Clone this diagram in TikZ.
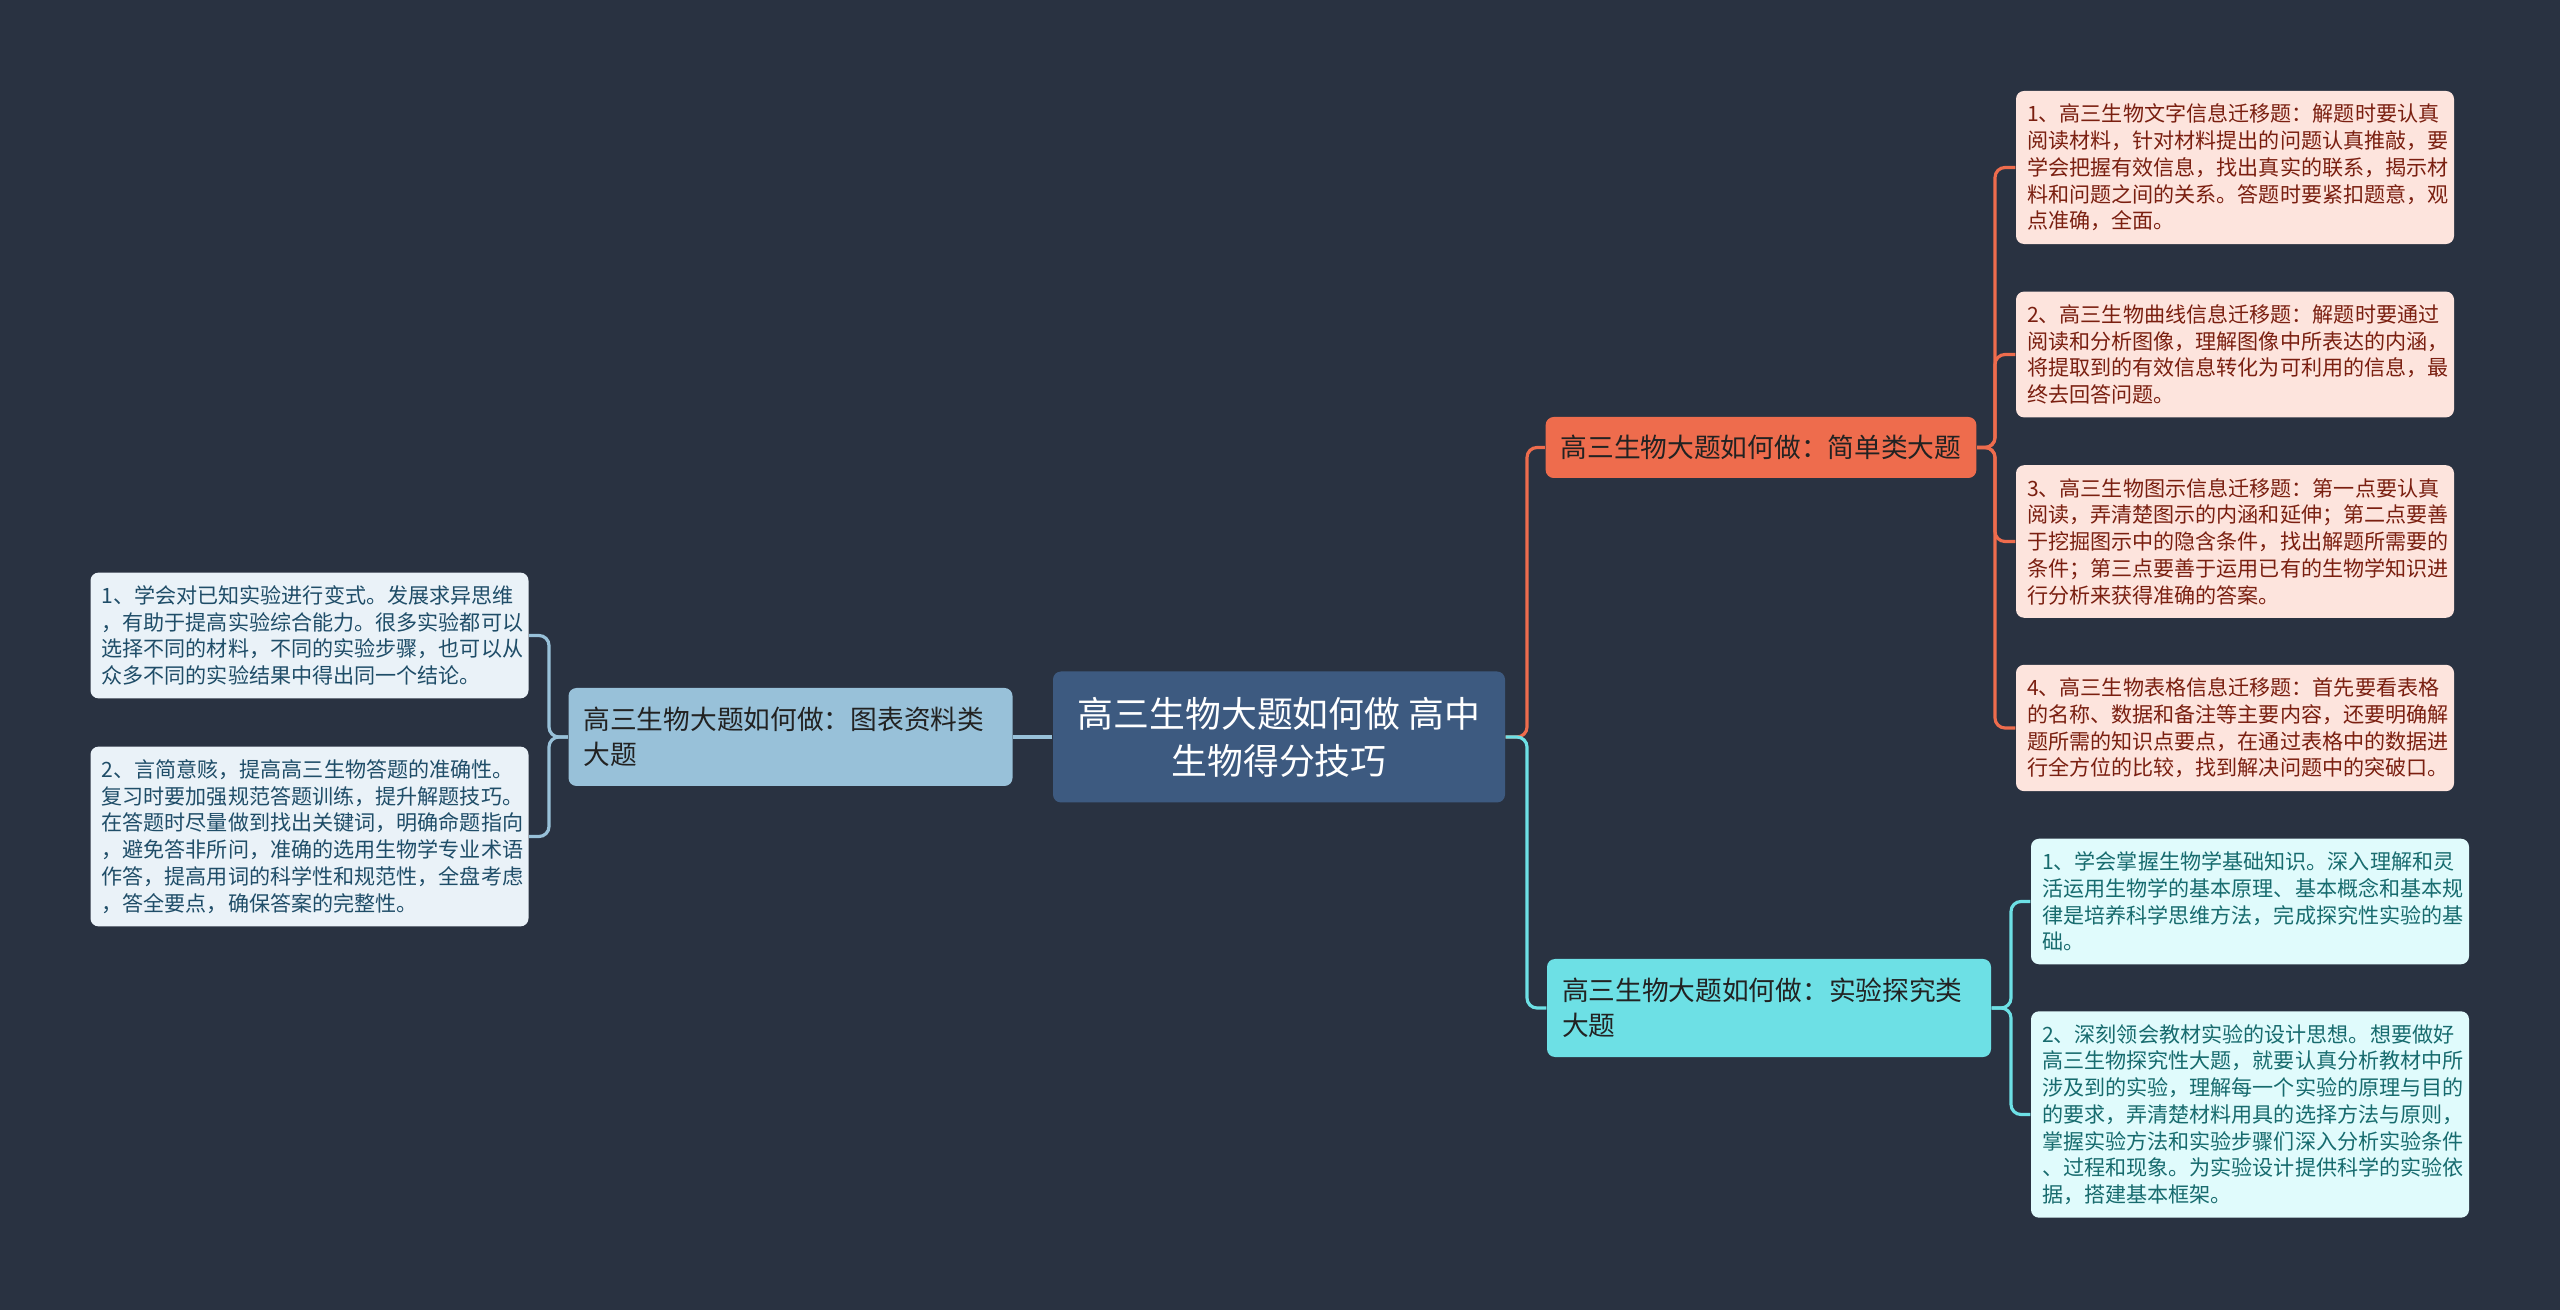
\documentclass[tikz,border=0pt]{standalone}
\usepackage{fontspec}
\setmainfont{Noto Sans CJK SC}

\definecolor{bgnavy}{HTML}{293241}
\definecolor{rootblue}{HTML}{3D5A80}
\definecolor{easyorange}{HTML}{EE6C4D}
\definecolor{labcyan}{HTML}{6DE0E5}
\definecolor{chartblue}{HTML}{98C1D9}
\definecolor{easyleaf}{HTML}{FDE4DD}
\definecolor{lableaf}{HTML}{E0FBFC}
\definecolor{chartleaf}{HTML}{EAF2F8}
\definecolor{easytext}{HTML}{7A1F10}
\definecolor{labtext}{HTML}{176B6E}
\definecolor{charttext}{HTML}{1F4D68}
\definecolor{branchtext}{HTML}{222222}

\begin{document}
\begin{tikzpicture}[
    box/.style={
        rounded corners=0.08cm,
        inner ysep=0.13cm,
        align=left
    },
    root/.style={
        box,
        fill=rootblue,
        text=white,
        align=center,
        minimum width=4.52cm,
        minimum height=1.31cm,
        font=\fontsize{10.2}{13.4}\selectfont
    },
    branch/.style={
        box,
        inner xsep=0.15cm,
        text=branchtext,
        font=\fontsize{7.6}{10}\selectfont
    },
    leaf/.style={
        box,
        inner xsep=0.11cm,
        text width=4.16cm,
        font=\fontsize{6}{7.6}\selectfont
    },
    easyleafbox/.style={leaf, fill=easyleaf, text=easytext},
    lableafbox/.style={leaf, fill=lableaf, text=labtext},
    chartleafbox/.style={leaf, fill=chartleaf, text=charttext},
    link/.style={line width=0.9pt, rounded corners=0.1cm}
]

\fill[bgnavy] (0,0) rectangle (25.6,13.1);

\coordinate (rspine) at (15.27,0);
\coordinate (espine) at (19.95,0);
\coordinate (lspine) at (20.11,0);
\coordinate (cspine) at (5.49,0);

\node[root] (root) at (12.79,5.73)
    {高三生物大题如何做 高中\\生物得分技巧};

\node[branch,fill=easyorange,minimum height=0.61cm] (easy) at (17.61,8.625)
    {高三生物大题如何做：简单类大题};
\node[branch,fill=labcyan,text width=4.14cm,minimum height=0.98cm] (lab) at (17.69,3.02)
    {高三生物大题如何做：实验探究类\\大题};
\node[branch,fill=chartblue,text width=4.14cm,minimum height=0.98cm] (chart) at (7.905,5.73)
    {高三生物大题如何做：图表资料类\\大题};

\node[easyleafbox] (e1) at (22.35,11.425)
    {1、高三生物文字信息迁移题：解题时要认真\\阅读材料，针对材料提出的问题认真推敲，要\\学会把握有效信息，找出真实的联系，揭示材\\料和问题之间的关系。答题时要紧扣题意，观\\点准确，全面。};
\node[easyleafbox] (e2) at (22.35,9.555)
    {2、高三生物曲线信息迁移题：解题时要通过\\阅读和分析图像，理解图像中所表达的内涵，\\将提取到的有效信息转化为可利用的信息，最\\终去回答问题。};
\node[easyleafbox] (e3) at (22.35,7.685)
    {3、高三生物图示信息迁移题：第一点要认真\\阅读，弄清楚图示的内涵和延伸；第二点要善\\于挖掘图示中的隐含条件，找出解题所需要的\\条件；第三点要善于运用已有的生物学知识进\\行分析来获得准确的答案。};
\node[easyleafbox] (e4) at (22.35,5.82)
    {4、高三生物表格信息迁移题：首先要看表格\\的名称、数据和备注等主要内容，还要明确解\\题所需的知识点要点，在通过表格中的数据进\\行全方位的比较，找到解决问题中的突破口。};

\node[lableafbox] (l1) at (22.50,4.085)
    {1、学会掌握生物学基础知识。深入理解和灵\\活运用生物学的基本原理、基本概念和基本规\\律是培养科学思维方法，完成探究性实验的基\\础。};
\node[lableafbox] (l2) at (22.50,1.955)
    {2、深刻领会教材实验的设计思想。想要做好\\高三生物探究性大题，就要认真分析教材中所\\涉及到的实验，理解每一个实验的原理与目的\\的要求，弄清楚材料用具的选择方法与原则，\\掌握实验方法和实验步骤们深入分析实验条件\\、过程和现象。为实验设计提供科学的实验依\\据，搭建基本框架。};

\node[chartleafbox] (c1) at (3.095,6.745)
    {1、学会对已知实验进行变式。发展求异思维\\，有助于提高实验综合能力。很多实验都可以\\选择不同的材料，不同的实验步骤，也可以从\\众多不同的实验结果中得出同一个结论。};
\node[chartleafbox] (c2) at (3.095,4.735)
    {2、言简意赅，提高高三生物答题的准确性。\\复习时要加强规范答题训练，提升解题技巧。\\在答题时尽量做到找出关键词，明确命题指向\\，避免答非所问，准确的选用生物学专业术语\\作答，提高用词的科学性和规范性，全盘考虑\\，答全要点，确保答案的完整性。};

\draw[link,easyorange] (root.east) -- (root.east -| rspine) |- (easy.west);
\draw[link,labcyan] (root.east) -- (root.east -| rspine) |- (lab.west);
\draw[link,chartblue] (root.west) -- (chart.east);

\draw[link,easyorange] (easy.east) -- (easy.east -| espine) |- (e1.west);
\draw[link,easyorange] (easy.east) -- (easy.east -| espine) |- (e2.west);
\draw[link,easyorange] (easy.east) -- (easy.east -| espine) |- (e3.west);
\draw[link,easyorange] (easy.east) -- (easy.east -| espine) |- (e4.west);

\draw[link,labcyan] (lab.east) -- (lab.east -| lspine) |- (l1.west);
\draw[link,labcyan] (lab.east) -- (lab.east -| lspine) |- (l2.west);

\draw[link,chartblue] (chart.west) -- (chart.west -| cspine) |- (c1.east);
\draw[link,chartblue] (chart.west) -- (chart.west -| cspine) |- (c2.east);

\end{tikzpicture}
\end{document}
